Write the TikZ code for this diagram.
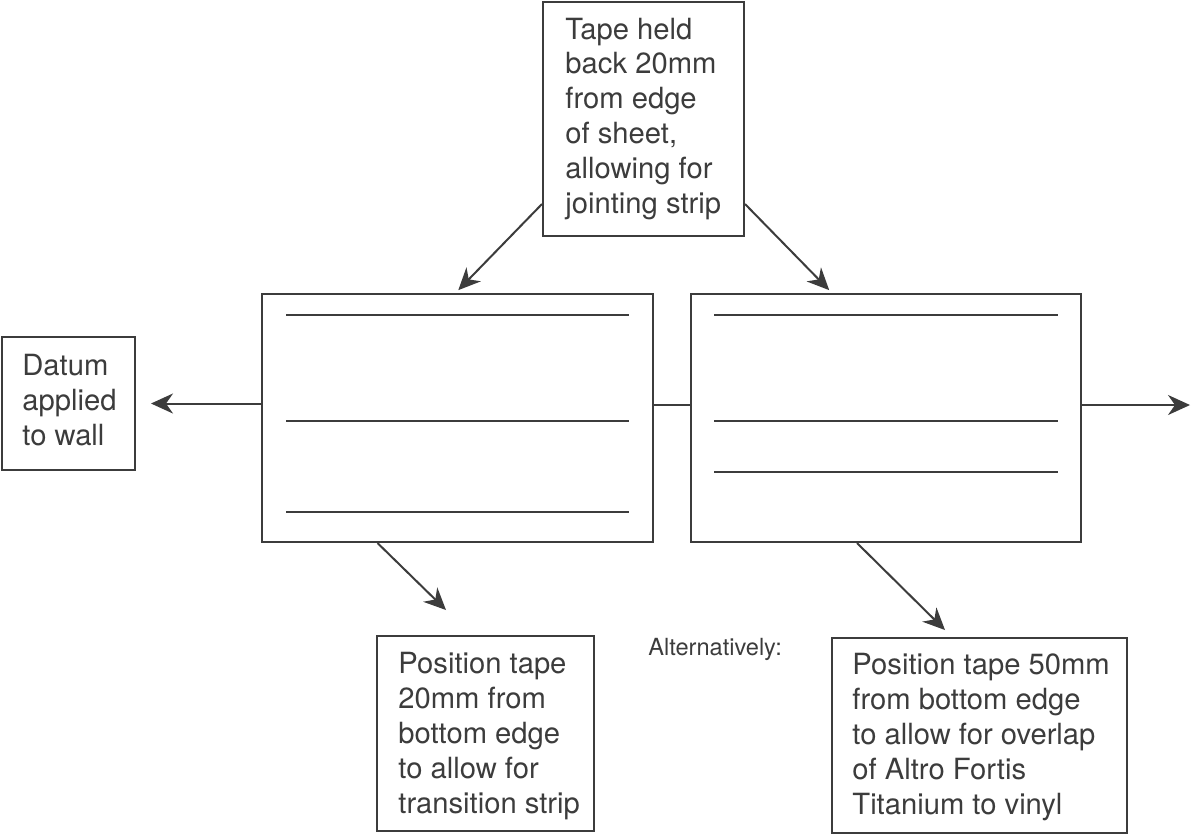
\documentclass[tikz,border=0pt]{standalone}
\usepackage{fontspec}
\setmainfont{TeX Gyre Heros}
\usetikzlibrary{arrows.meta}
\definecolor{ink}{HTML}{3C3C3C}
\tikzstyle{note} = [rectangle, draw=ink, line width=1pt, inner sep=0pt]
\tikzstyle{sheet} = [rectangle, draw=ink, line width=1pt, inner sep=0pt, minimum height=124pt]
\tikzstyle{txt} = [align=left, inner sep=0pt, text=ink, font=\fontsize{14.6}{17.4}\selectfont]
\tikzstyle{tape} = [draw=ink, line width=1pt]
\tikzstyle{arrow} = [draw=ink, line width=1pt, -{Stealth[length=11pt, width=10pt, inset=3.5pt]}]
\begin{document}
\begin{tikzpicture}[x=0.5pt, y=-0.5pt]
\useasboundingbox (0,0) rectangle (1192,837);

% the two sheets
\node (leftSheet) [sheet, minimum width=195.5pt] at (457.5,418) {};
\node (rightSheet) [sheet, minimum width=195pt] at (886,418) {};
\foreach \y in {315,421,512} \draw[tape] (286,\y) -- (629,\y);
\foreach \y in {315,421,472} \draw[tape] (714,\y) -- (1058,\y);

% notes (text placed by its last baseline)
\node (tapeNote) [note, minimum width=100.5pt, minimum height=117pt] at (643.5,119) {};
\node (tapeText) [txt, anchor=base west] at (565,213) {Tape held\\back 20mm\\from edge\\of sheet,\\allowing for\\jointing strip};
\node (datum) [note, minimum width=66.5pt, minimum height=66.5pt] at (68.5,403.5) {};
\node (datumText) [txt, anchor=base west] at (22,445) {Datum\\applied\\to wall};
\node (lowNote) [note, minimum width=108.5pt, minimum height=97.5pt] at (485.5,733.5) {};
\node (lowText) [txt, anchor=base west] at (398,813) {Position tape\\20mm from\\bottom edge\\to allow for\\transition strip};
\node (altNote) [note, minimum width=147.5pt, minimum height=97.5pt] at (979.5,735.5) {};
\node (altText) [txt, anchor=base west] at (852,814) {Position tape 50mm\\from bottom edge\\to allow for overlap\\of Altro Fortis\\Titanium to vinyl};
\node (altLabel) [txt, anchor=base west, font=\fontsize{11.8}{14}\selectfont] at (648,655) {Alternatively:};

\coordinate (farRight) at (1190,405);
\coordinate (lowTip) at (446,610);
\coordinate (altTip) at (945,630);

% connectors
\draw[arrow, shorten >=7.5pt] (datum.east -| leftSheet.west) -- (datum.east);
\draw[tape] (leftSheet.east |- farRight) -- (rightSheet.west |- farRight);
\draw[arrow] (rightSheet.east |- farRight) -- (farRight);
\draw[arrow, shorten >=2pt] ([yshift=16.5pt]tapeNote.south west) -- ([xshift=-1pt]leftSheet.north);
\draw[arrow, shorten >=2pt] ([yshift=16.5pt]tapeNote.south east) -- ([xshift=-27pt]rightSheet.north);
\draw[arrow] ([xshift=-40pt]leftSheet.south) -- (lowTip);
\draw[arrow] ([xshift=-14.5pt]rightSheet.south) -- (altTip);

\end{tikzpicture}
\end{document}
